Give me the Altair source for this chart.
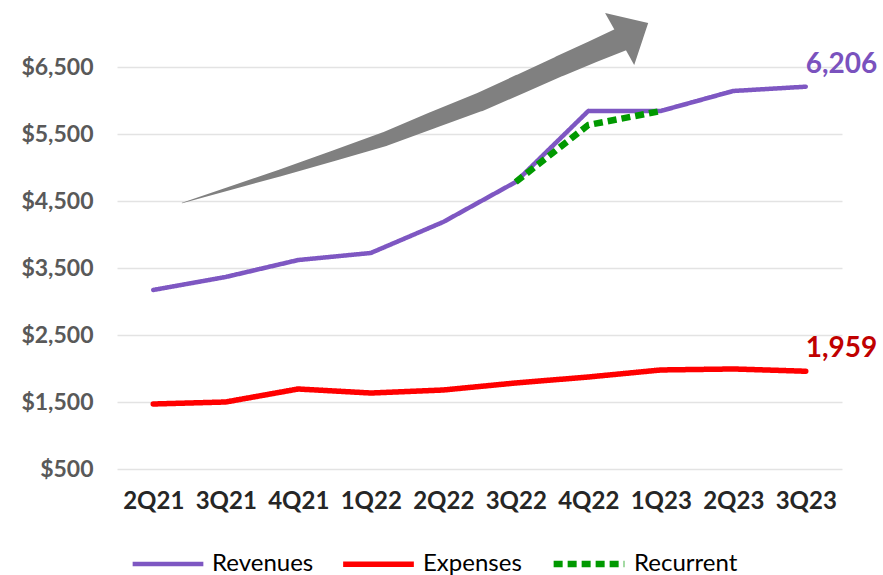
import altair as alt
import pandas as pd

quarters = ["2Q21", "3Q21", "4Q21", "1Q22", "2Q22", "3Q22", "4Q22", "1Q23", "2Q23", "3Q23"]
revenues = [3172, 3366, 3619, 3724, 4187, 4784, 5843, 5843, 6142, 6206]
expenses = [1470, 1500, 1694, 1634, 1679, 1784, 1873, 1978, 1993, 1959]
recurrent = [None, None, None, None, None, 4784, 5634, 5843, None, None]
series_names = ["Revenues", "Expenses", "Recurrent"]
series_colors = ["#7E57C2", "#FF0000", "#009900"]
y_ticks = [500, 1500, 2500, 3500, 4500, 5500, 6500]

# decorative growth arrow (in data units: quarter index, value)
arrow_x = [0.397, 1.072, 1.748, 2.479, 3.197, 3.859, 4.507, 5.059, 5.610, 6.052, 6.466]
arrow_y = [4470, 4694, 4918, 5172, 5425, 5709, 5978, 6246, 6515, 6724, 6918]
arrow_w = [0.5, 3.5, 7, 10.5, 14, 16.5, 18.5, 19.5, 20.5, 22, 24]
arrow_head_x = [6.63]
arrow_head_y = [7037]

FONT = "Lato"

rows = []
for name, vals in zip(series_names, [revenues, expenses, recurrent]):
    for i, v in enumerate(vals):
        if v is not None:
            rows.append({"series": name, "idx": i, "value": v})
df = pd.DataFrame(rows)

arrow_df = pd.DataFrame({"x": arrow_x, "y": arrow_y, "w": arrow_w, "o": list(range(len(arrow_x)))})
head_df = pd.DataFrame({"x": arrow_head_x, "y": arrow_head_y})

rev_end = pd.DataFrame({"idx": [len(quarters) - 1], "value": [revenues[-1]], "label": [f"{revenues[-1]:,}"]})
exp_end = pd.DataFrame({"idx": [len(quarters) - 1], "value": [expenses[-1]], "label": [f"{expenses[-1]:,}"]})

label_expr = "[" + ",".join(f"'{q}'" for q in quarters) + "][datum.value]"
x_scale = alt.Scale(domain=[-0.5, len(quarters) - 0.5], nice=False, zero=False)
y_scale = alt.Scale(domain=[500, 7500], nice=False, zero=False)

x_enc = alt.X(
    "idx:Q",
    scale=x_scale,
    axis=alt.Axis(
        values=list(range(len(quarters))),
        labelExpr=label_expr,
        title=None,
        grid=False,
        domain=False,
        ticks=False,
        labelFont=FONT,
        labelFontSize=24,
        labelFontWeight="bold",
        labelColor="#262626",
        labelPadding=20,
    ),
)
y_enc = alt.Y(
    "value:Q",
    scale=y_scale,
    axis=alt.Axis(
        values=y_ticks,
        format="$,.0f",
        title=None,
        domain=False,
        ticks=False,
        grid=True,
        gridColor="#E3E3E3",
        gridWidth=1.5,
        labelFont=FONT,
        labelFontSize=23,
        labelFontWeight="bold",
        labelColor="#595959",
        labelPadding=24,
    ),
)

legend = alt.Legend(
    title=None,
    orient="none",
    legendX=13,
    legendY=525,
    direction="horizontal",
    symbolType="stroke",
    symbolSize=5000,
    labelFont=FONT,
    labelFontSize=24,
    labelColor="#000000",
    labelOffset=6,
    columnPadding=18,
)

color_enc = alt.Color("series:N", scale=alt.Scale(domain=series_names, range=series_colors), legend=legend)
dash_enc = alt.StrokeDash(
    "series:N",
    scale=alt.Scale(domain=series_names, range=[[1, 0], [1, 0], [9, 5]]),
    legend=legend,
)
width_enc = alt.StrokeWidth(
    "series:N",
    scale=alt.Scale(domain=series_names, range=[4.5, 6.5, 3.5]),
    legend=legend,
)

main = alt.Chart(df).transform_filter(alt.datum.series != "Recurrent").mark_line(
    strokeCap="round", strokeJoin="round"
).encode(x=x_enc, y=y_enc, color=color_enc, strokeDash=dash_enc, strokeWidth=width_enc)

rec = alt.Chart(df).transform_filter(alt.datum.series == "Recurrent").mark_line(
    strokeCap="butt", strokeJoin="round"
).encode(x=x_enc, y=y_enc, color=color_enc, strokeDash=dash_enc, strokeWidth=width_enc)

arrow = alt.Chart(arrow_df).mark_trail(color="#808080").encode(
    x=alt.X("x:Q", scale=x_scale),
    y=alt.Y("y:Q", scale=y_scale),
    size=alt.Size("w:Q", scale=None, legend=None),
    order="o:Q",
)
head = alt.Chart(head_df).mark_point(
    shape="M-0.55,-1L0.55,0L-0.55,1Z", filled=True, color="#808080",
    opacity=1, size=3540, angle=330.7, strokeWidth=0,
).encode(
    x=alt.X("x:Q", scale=x_scale),
    y=alt.Y("y:Q", scale=y_scale),
)

def end_label(data, color):
    return alt.Chart(data).mark_text(
        font=FONT, fontSize=28, fontWeight="bold", align="left", baseline="bottom",
        dx=0, dy=-8, color=color,
    ).encode(x=alt.X("idx:Q", scale=x_scale), y=alt.Y("value:Q", scale=y_scale), text="label:N")

labels_rev = end_label(rev_end, "#7A52BE")
labels_exp = end_label(exp_end, "#C00000")

chart = alt.layer(arrow, head, main, rec, labels_rev, labels_exp).properties(
    width=725, height=469,
    autosize=alt.AutoSizeParams(type="none"),
    padding={"left": 117, "top": 0, "right": 41, "bottom": 106},
).configure(background="white").configure_view(stroke=None)

chart.save("out.html", embed_options={"renderer": "svg", "actions": False})
